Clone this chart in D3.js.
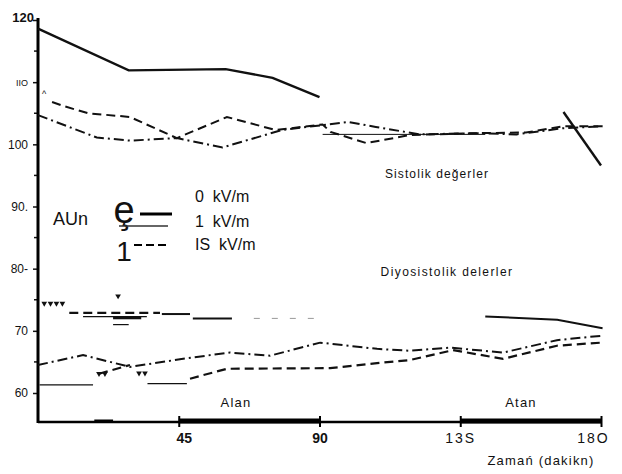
<!DOCTYPE html>
<html>
<head>
<meta charset="utf-8">
<script src="https://cdn.jsdelivr.net/npm/d3@7"></script>
<style>
  body { margin: 0; background: #fff; }
  text { font-family: "Liberation Sans", Arial, sans-serif; fill: #111; }
</style>
</head>
<body>
<div id="chart"></div>
<script>
// tick values and their (scanned) labels
var yTicks = [60, 70, 80, 90, 100, 110, 120];
var yLabels = ["60", "70", "80-", "90.", "100", "IIO", "120"];
var yMinor = [65, 75, 85, 95, 105, 115];
var xTicks = [45, 90, 135, 180];
var xLabels = ["45", "90", "13S", "18O"];
var axisBands = [[18, 24], [45, 90], [135, 180]];

// systolic, [minute, mmHg]
var sys0 = [[[0, 118.6], [29, 111.9], [60, 112.1], [75, 110.7], [90, 107.6]],
            [[168, 105.2], [180, 96.6]]];
var sys1 = [[[4.5, 106.8], [8.6, 106.1], [16, 105], [29.4, 104.4], [44.4, 101], [60.4, 104.4],
             [76, 102.3], [91, 103.2], [93.5, 102], [105, 100.2], [119, 101.5], [141, 101.8],
             [156, 101.9], [168, 102.9], [180.5, 102.9]]];
var sys15 = [[[0, 104.7], [18.8, 101.1], [29.4, 100.6], [44.4, 101], [59, 99.5], [78, 102.3],
              [91, 103.1], [99, 103.6], [108, 102.8], [122, 101.6], [140, 101.8], [153, 101.6],
              [168, 102.6], [180.5, 102.9]]];
var sysThin = [[[91, 101.6], [143, 101.6]]];

// diastolic
var dia0 = [[[39.6, 72.7], [48.6, 72.7]], [[49.5, 72.0], [62, 72.0]],
            [[143, 72.3], [166, 71.8], [180.5, 70.4]]];
var dia1 = [[[10, 72.9], [39, 72.9]],
            [[19.5, 63.1], [29.4, 64.5]],
            [[48.6, 62.3], [60.4, 63.9], [93.4, 64.0], [108.4, 64.8], [118.9, 65.3], [132.7, 66.9],
             [148.7, 65.5], [165.9, 67.6], [180, 68.1]]];
var dia1faint = [[[69, 72.0], [90, 72.0]]];
var dia15 = [[[0, 64.5], [14.4, 66.1], [29.4, 64.2], [47.6, 65.6], [61.4, 66.5], [74.2, 66.0],
              [90.2, 68.1], [108.4, 67.1], [118.9, 66.8], [131.7, 67.3], [148.7, 66.5],
              [165.9, 68.5], [180, 69.2]]];
var diaThin = [[[0.5, 61.3], [17.6, 61.3]], [[35, 61.5], [47.6, 61.5]],
               [[14.4, 72.3], [34.8, 72.3]], [[24, 71.0], [29, 71.0]]];
var diaThick = [[[24, 72.1], [33, 72.1]]];

// stray triangle marks of the scan
var triMarks = [[2, 74.4], [4, 74.4], [5.9, 74.4], [7.8, 74.4], [25.6, 75.6],
                [19.5, 63.1], [21.4, 63.1], [32.3, 63.2], [34.2, 63.2]];

var W = 622, H = 474;
var svg = d3.select("#chart").append("svg")
    .attr("width", W).attr("height", H);

var x = d3.scaleLinear().domain([0, 180]).range([38, 601]);
var y = d3.scaleLinear().domain([60, 120]).range([393, 20]);
var yBottom = 422;

var line = d3.line().x(function (d) { return x(d[0]); }).y(function (d) { return y(d[1]); });

function drawSeries(data, width, dash, color) {
  svg.append("g").selectAll("path").data(data).enter().append("path")
    .attr("d", line)
    .attr("fill", "none")
    .attr("stroke", color || "#111")
    .attr("stroke-width", width)
    .attr("stroke-dasharray", dash);
}

// y axis
var yAxis = svg.append("g")
    .attr("transform", "translate(38,0)")
    .call(d3.axisLeft(y).tickValues(yTicks).tickSize(5)
      .tickFormat(function (d, i) { return yLabels[i]; }));
yAxis.select(".domain").remove();
yAxis.selectAll(".tick line").attr("stroke", "#111").attr("stroke-width", 1.5);
yAxis.selectAll(".tick text")
    .attr("x", -10)
    .style("font-family", "'Liberation Sans', Arial, sans-serif")
    .style("font-size", "12px")
    .attr("fill", "#222")
    .attr("text-anchor", "end");
yAxis.selectAll(".tick text").filter(function (d) { return d === 120; })
    .style("font-weight", "bold").style("font-size", "13px").attr("x", -4).attr("dy", "0.1em");
yAxis.selectAll(".tick text").filter(function (d) { return d === 110; })
    .style("font-size", "9px").attr("x", -10);
svg.append("g").selectAll("line").data(yMinor).enter().append("line")
    .attr("x1", 34).attr("x2", 38)
    .attr("y1", function (d) { return y(d); }).attr("y2", function (d) { return y(d); })
    .attr("stroke", "#111").attr("stroke-width", 1.5);
svg.append("line").attr("x1", 38).attr("x2", 38).attr("y1", 18).attr("y2", yBottom + 1)
    .attr("stroke", "#000").attr("stroke-width", 3);

// x axis
var xAxis = svg.append("g")
    .attr("transform", "translate(0," + yBottom + ")")
    .call(d3.axisBottom(x).tickValues(xTicks).tickSize(5)
      .tickFormat(function (d, i) { return xLabels[i]; }));
xAxis.select(".domain").remove();
xAxis.selectAll(".tick line").attr("stroke", "#000").attr("stroke-width", 2).attr("y1", -6);
xAxis.selectAll(".tick text")
    .attr("y", 11)
    .style("font-family", "'Liberation Sans', Arial, sans-serif")
    .style("font-size", "14px")
    .attr("fill", "#111");
xAxis.selectAll(".tick text").filter(function (d) { return d <= 90; })
    .style("font-weight", "bold").attr("dx", function (d) { return d === 45 ? 5 : 0; });
xAxis.selectAll(".tick text").filter(function (d) { return d > 90; })
    .style("letter-spacing", "2px").attr("dx", function (d) { return d === 180 ? -8 : 0; });
svg.append("line").attr("x1", 38).attr("x2", x(180)).attr("y1", yBottom).attr("y2", yBottom)
    .attr("stroke", "#000").attr("stroke-width", 2.5);
svg.append("g").selectAll("line").data(axisBands).enter().append("line")
    .attr("x1", function (d) { return x(d[0]); }).attr("x2", function (d) { return x(d[1]); })
    .attr("y1", yBottom - 1).attr("y2", yBottom - 1)
    .attr("stroke", "#000").attr("stroke-width", function (d) { return d[0] === 18 ? 3 : 5; });

// curves
drawSeries(sys0, 2.4, null);
drawSeries(sys1, 2, "9,5");
drawSeries(sys15, 2, "10,4,2,4");
drawSeries(sysThin, 1, null);
drawSeries(dia0, 2, null);
drawSeries(dia1, 2.2, "9,5");
drawSeries(dia1faint, 1, "6,12", "#999");
drawSeries(dia15, 2, "10,4,2,4");
drawSeries(diaThin, 1.2, null);
drawSeries(diaThick, 3, null);

svg.append("g").selectAll("path").data(triMarks).enter().append("path")
    .attr("d", d3.symbol().type(d3.symbolTriangle).size(14))
    .attr("transform", function (d) { return "translate(" + x(d[0]) + "," + y(d[1]) + ") rotate(180)"; })
    .attr("fill", "#111");
svg.append("text").attr("x", 42).attr("y", 97).style("font-size", "9px").text("^");

// annotations
function label(txt, px, py, size, spacing, anchor) {
  return svg.append("text").attr("x", px).attr("y", py)
    .attr("text-anchor", anchor || "middle")
    .style("font-size", size + "px")
    .style("letter-spacing", spacing + "px")
    .text(txt);
}
label("Sistolik  değerler", 437, 178, 12, 1.1);
label("Diyosistolik  delerler", 447, 276, 12, 1.4);
label("Alan", 236, 407, 13, 1.2);
label("Atan", 521, 407, 13, 1.2);
label("Zamań  (dakikn)", 541, 465, 13, 1.2);

// legend
label("AUn", 53, 225, 18, 0, "start");
label("ȩ", 124, 223, 38, 0);
label("1", 124, 261, 28, 0);
svg.append("line").attr("x1", 140).attr("x2", 172).attr("y1", 214).attr("y2", 214)
    .attr("stroke", "#000").attr("stroke-width", 3);
svg.append("line").attr("x1", 119).attr("x2", 168).attr("y1", 226).attr("y2", 226)
    .attr("stroke", "#333").attr("stroke-width", 1.3);
svg.append("line").attr("x1", 134).attr("x2", 168).attr("y1", 245).attr("y2", 245)
    .attr("stroke", "#000").attr("stroke-width", 2).attr("stroke-dasharray", "8,4");
label("0  kV/m", 195, 202, 16, 0, "start").attr("xml:space", "preserve");
label("1  kV/m", 195, 227, 16, 0, "start").attr("xml:space", "preserve");
label("IS  kV/m", 195, 250, 16, 0, "start").attr("xml:space", "preserve");
</script>
</body>
</html>
